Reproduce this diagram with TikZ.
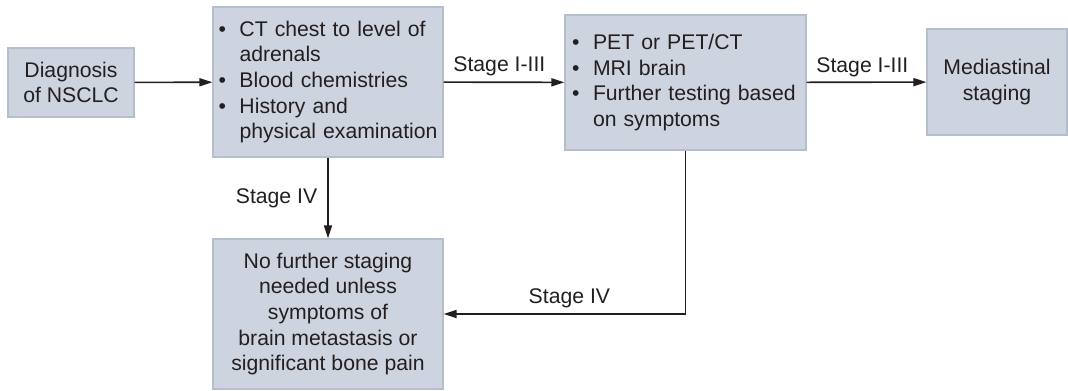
\documentclass[tikz,border=0pt]{standalone}
\usepackage{fontspec}
\setmainfont{Liberation Sans}
\usetikzlibrary{arrows.meta}
\definecolor{boxfill}{HTML}{CDD3DF}
\definecolor{boxline}{HTML}{B6BECE}
\definecolor{ink}{HTML}{231F20}

\begin{document}
\begin{tikzpicture}[
        x=0.5pt,
        y=-0.5pt,
        font=\fontsize{10.6pt}{12.8pt}\selectfont,
        box/.style={draw=boxline, fill=boxfill, line width=0.6pt, text=ink, inner sep=0pt, align=center},
        arr/.style={draw=ink, line width=0.8pt, -{Triangle[length=6.5pt, width=4pt]}},
        lbl/.style={text=ink, inner sep=2.5pt}
    ]
    \def\bul{\makebox[10.5pt][l]{•}}
    \def\ind{\hspace*{10.5pt}}

    \useasboundingbox (0,0) rectangle (1068,390);

    \node[box, minimum width=63pt, minimum height=34.5pt] (diag) at (71,82.5) {Diagnosis\\of NSCLC};
    \node[box, minimum width=115pt, minimum height=75pt, text width=109.5pt, inner xsep=2.75pt, align=left] (ctchest) at (328,82)
        {\bul CT chest to level of\\\ind adrenals\\\bul Blood chemistries\\\bul History and\\\ind physical examination};
    \node[box, minimum width=120.5pt, minimum height=67.5pt, text width=113.5pt, inner xsep=3.5pt, align=left] (petct) at (685.5,82.5)
        {\bul PET or PET/CT\\\bul MRI brain\\\bul Further testing based\\\ind on symptoms};
    \node[box, minimum width=70pt, minimum height=53pt] (med) at (997,82) {Mediastinal\\staging};
    \node[box, minimum width=115pt, minimum height=75pt] (nofurther) at (328,314)
        {No further staging\\needed unless\\symptoms of\\brain metastasis or\\significant bone pain};

    \draw[arr] (diag) -- (ctchest);
    \draw[arr] (ctchest) -- node[lbl, pos=0, above right, xshift=2pt] {Stage I-III} (petct);
    \draw[arr] (petct) -- node[lbl, pos=0, above right, xshift=2pt] {Stage I-III} (med);
    \draw[arr] (ctchest) -- node[lbl, left, xshift=-2.5pt] {Stage IV} (nofurther);
    \draw[arr] (petct) |- node[lbl, pos=0.74, above] {Stage IV} (nofurther);
\end{tikzpicture}
\end{document}
